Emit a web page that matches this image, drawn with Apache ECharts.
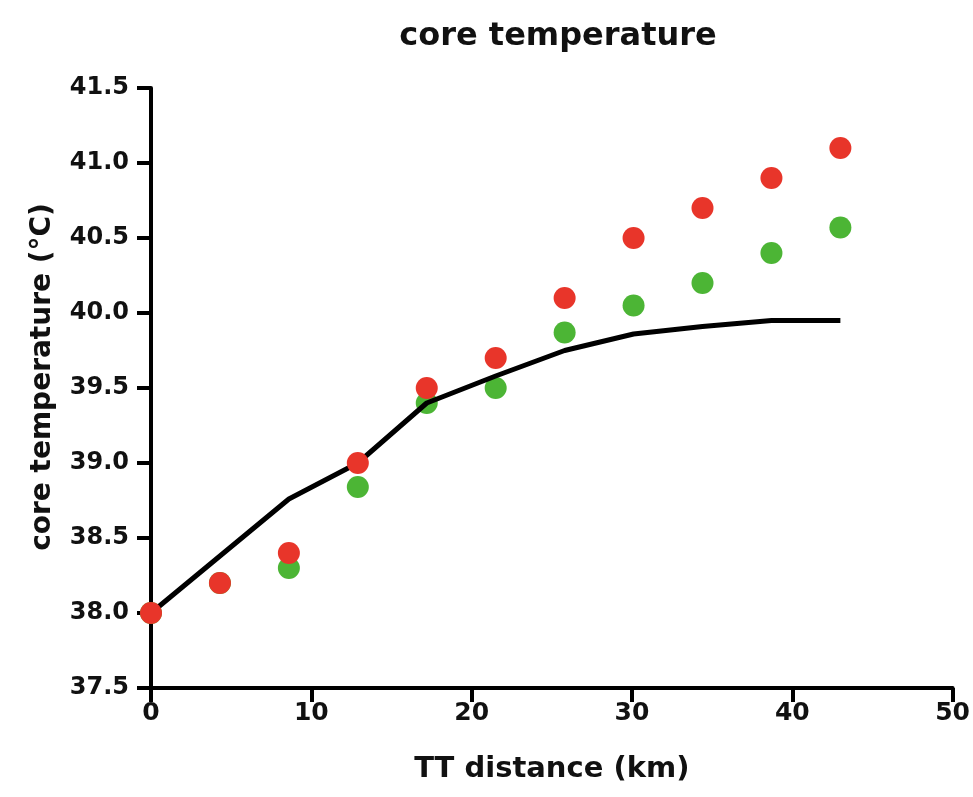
<!DOCTYPE html>
<html>
<head>
<meta charset="utf-8">
<script src="https://cdn.jsdelivr.net/npm/echarts@6/dist/echarts.min.js"></script>
<style>
  html, body { margin: 0; padding: 0; background: #fff; }
  #chart { width: 973px; height: 797px; }
</style>
</head>
<body>
<div id="chart"></div>
<script>
// Data
const distanceKm = [0, 4.3, 8.6, 12.9, 17.2, 21.5, 25.8, 30.1, 34.4, 38.7, 43];
const redTemps   = [38.0, 38.2, 38.4, 39.0, 39.5, 39.7, 40.1, 40.5, 40.7, 40.9, 41.1];
const greenTemps = [38.0, 38.2, 38.3, 38.84, 39.4, 39.5, 39.87, 40.05, 40.2, 40.4, 40.57];
const lineTemps  = [38.0, 38.38, 38.76, 39.0, 39.4, 39.58, 39.75, 39.86, 39.91, 39.95, 39.95];
const xTicks = [0, 10, 20, 30, 40, 50];
const yTicks = [37.5, 38.0, 38.5, 39.0, 39.5, 40.0, 40.5, 41.0, 41.5];

const pair = (ys) => distanceKm.map((x, i) => [x, ys[i]]);

const FONT = 'DejaVu Sans';
const chart = echarts.init(document.getElementById('chart'), null, { renderer: 'canvas' });
chart.setOption({
  backgroundColor: '#ffffff',
  animation: false,
  title: {
    text: 'core temperature',
    left: 553,
    top: 16,
    textAlign: 'center',
    textStyle: { fontFamily: FONT, fontWeight: 'bold', fontSize: 32, color: '#111' }
  },
  grid: { left: 151, right: 16, top: 88, bottom: 109, containLabel: false },
  xAxis: {
    type: 'value',
    min: xTicks[0],
    max: xTicks[xTicks.length - 1],
    interval: 10,
    name: 'TT distance (km)',
    nameLocation: 'middle',
    nameGap: 67,
    nameTextStyle: { fontFamily: FONT, fontWeight: 'bold', fontSize: 29, color: '#111' },
    axisLine: { show: true, onZero: false, lineStyle: { color: '#000', width: 4 } },
    axisTick: { show: true, length: 14, lineStyle: { color: '#000', width: 4 } },
    axisLabel: { margin: 13, fontFamily: FONT, fontWeight: 'bold', fontSize: 25, color: '#111' },
    splitLine: { show: false }
  },
  yAxis: {
    type: 'value',
    min: yTicks[0],
    max: yTicks[yTicks.length - 1],
    interval: 0.5,
    name: 'core temperature (°C)',
    nameLocation: 'middle',
    nameGap: 94,
    nameTextStyle: {
      fontFamily: FONT, fontWeight: 'bold', fontSize: 28, color: '#111',
      padding: [0, 0, 0, 22]
    },
    axisLine: { show: true, onZero: false, lineStyle: { color: '#000', width: 4 } },
    axisTick: { show: true, length: 14, lineStyle: { color: '#000', width: 4 } },
    axisLabel: {
      margin: 22, fontFamily: FONT, fontWeight: 'bold', fontSize: 24, color: '#111',
      formatter: (v) => v.toFixed(1)
    },
    splitLine: { show: false }
  },
  series: [
    {
      name: 'green',
      type: 'scatter',
      data: pair(greenTemps),
      symbol: 'circle',
      symbolSize: 22,
      itemStyle: { color: '#4cb535', opacity: 1 },
      z: 2
    },
    {
      name: 'line',
      type: 'line',
      data: pair(lineTemps),
      showSymbol: false,
      symbol: 'none',
      lineStyle: { color: '#000', width: 5 },
      z: 3
    },
    {
      name: 'red',
      type: 'scatter',
      data: pair(redTemps),
      symbol: 'circle',
      symbolSize: 22,
      itemStyle: { color: '#e8352a', opacity: 1 },
      z: 4
    }
  ]
});
</script>
</body>
</html>
